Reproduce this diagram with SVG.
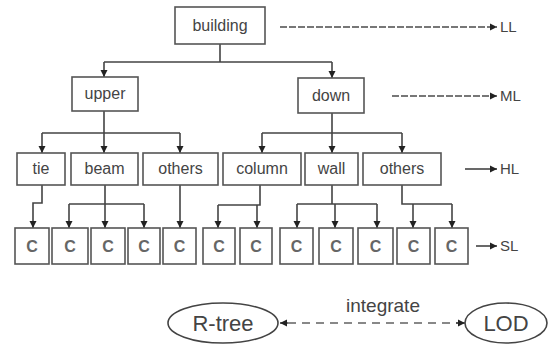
<svg xmlns="http://www.w3.org/2000/svg" width="550" height="345" viewBox="0 0 550 345">
<defs>
<marker id="ah" markerUnits="userSpaceOnUse" markerWidth="8" markerHeight="8" refX="7" refY="4" orient="auto">
<path d="M0,0.5 L7,4 L0,7.5 Z" fill="#222"/>
</marker>
<style>
.box{fill:#fff;stroke:#555;stroke-width:1.6}
.t{font-family:"Liberation Sans",Arial,sans-serif;font-size:16px;fill:#444;text-anchor:middle}
.c{font-family:"Liberation Sans",Arial,sans-serif;font-size:16px;font-weight:bold;fill:#666;text-anchor:middle}
.lab{font-family:"Liberation Sans",Arial,sans-serif;font-size:15px;fill:#444}
.ln{fill:none;stroke:#444;stroke-width:1.6}
.ar{fill:none;stroke:#444;stroke-width:1.6;marker-end:url(#ah)}
.dl{fill:none;stroke:#777;stroke-width:2;stroke-dasharray:7 2;marker-end:url(#ah)}
.db{fill:none;stroke:#888;stroke-width:2;stroke-dasharray:8 6}
.el{fill:#fff;stroke:#444;stroke-width:1.6}
.big{font-family:"Liberation Sans",Arial,sans-serif;font-size:22px;fill:#444;text-anchor:middle}
</style>
</defs>

<g id="connectors">
<path class="ln" d="M220 44 V62 M104 62 H332"/>
<path class="ar" d="M104 62 V77"/>
<path class="ar" d="M332 62 V78"/>
<path class="ln" d="M104 111 V133 M42 133 H180"/>
<path class="ar" d="M42 133 V153"/>
<path class="ar" d="M104 133 V153"/>
<path class="ar" d="M180 133 V153"/>
<path class="ln" d="M332 113 V133 M262 133 H402"/>
<path class="ar" d="M262 133 V153"/>
<path class="ar" d="M332 133 V153"/>
<path class="ar" d="M402 133 V153"/>
<path class="ar" d="M42 185 V203 H33 V228"/>
<path class="ln" d="M105 185 V204 M69 204 H144"/>
<path class="ar" d="M69 204 V228"/>
<path class="ar" d="M105 204 V228"/>
<path class="ar" d="M144 204 V228"/>
<path class="ar" d="M180 185 V228"/>
<path class="ln" d="M260 185 V205 H218"/>
<path class="ar" d="M218 205 V228"/>
<path class="ar" d="M257 205 V228"/>
<path class="ln" d="M332 185 V204 M297 204 H377"/>
<path class="ar" d="M297 204 V228"/>
<path class="ar" d="M335 204 V228"/>
<path class="ar" d="M377 204 V228"/>
<path class="ln" d="M402 185 V204 H452"/>
<path class="ar" d="M413 204 V228"/>
<path class="ar" d="M452 204 V228"/>
<path class="dl" d="M280 27 H497"/>
<path class="dl" d="M392 96 H497"/>
<path class="ar" d="M465 169 H497"/>
<path class="ar" d="M476 246 H497"/>
<path class="db" d="M288 323 H458"/>
<path class="ar" d="M288 323 H280"/>
<path class="ar" d="M456 323 H465"/>
</g>

<g id="building"><rect class="box" x="175" y="7" width="90" height="37"/><text class="t" x="220" y="31">building</text></g>
<g id="upper"><rect class="box" x="72" y="77" width="66" height="34"/><text class="t" x="105" y="99">upper</text></g>
<g id="down"><rect class="box" x="298" y="78" width="66" height="35"/><text class="t" x="331" y="101">down</text></g>

<g id="tie"><rect class="box" x="17" y="153" width="48" height="32"/><text class="t" x="41" y="174">tie</text></g>
<g id="beam"><rect class="box" x="71" y="153" width="67" height="32"/><text class="t" x="104.5" y="174">beam</text></g>
<g id="others1"><rect class="box" x="143" y="153" width="75" height="32"/><text class="t" x="180.5" y="174">others</text></g>
<g id="column"><rect class="box" x="223" y="153" width="78" height="32"/><text class="t" x="262" y="174">column</text></g>
<g id="wall"><rect class="box" x="305" y="153" width="53" height="32"/><text class="t" x="331.5" y="174">wall</text></g>
<g id="others2"><rect class="box" x="363" y="153" width="78" height="32"/><text class="t" x="402" y="174">others</text></g>

<g id="c1"><rect class="box" x="15" y="228" width="34" height="36"/><text class="c" x="32" y="252">C</text></g>
<g id="c2"><rect class="box" x="52" y="228" width="36" height="36"/><text class="c" x="70" y="252">C</text></g>
<g id="c3"><rect class="box" x="91" y="228" width="34" height="36"/><text class="c" x="108" y="252">C</text></g>
<g id="c4"><rect class="box" x="128" y="228" width="32" height="36"/><text class="c" x="144" y="252">C</text></g>
<g id="c5"><rect class="box" x="163" y="228" width="33" height="36"/><text class="c" x="179.5" y="252">C</text></g>
<g id="c6"><rect class="box" x="203" y="228" width="32" height="36"/><text class="c" x="219" y="252">C</text></g>
<g id="c7"><rect class="box" x="240" y="228" width="32" height="36"/><text class="c" x="256" y="252">C</text></g>
<g id="c8"><rect class="box" x="280" y="228" width="33" height="36"/><text class="c" x="296.5" y="252">C</text></g>
<g id="c9"><rect class="box" x="319" y="228" width="34" height="36"/><text class="c" x="336" y="252">C</text></g>
<g id="c10"><rect class="box" x="358" y="228" width="35" height="36"/><text class="c" x="375.5" y="252">C</text></g>
<g id="c11"><rect class="box" x="397" y="228" width="33" height="36"/><text class="c" x="413.5" y="252">C</text></g>
<g id="c12"><rect class="box" x="435" y="228" width="33" height="36"/><text class="c" x="451.5" y="252">C</text></g>

<g id="labels">
<text class="lab" x="500" y="32">LL</text>
<text class="lab" x="500" y="101">ML</text>
<text class="lab" x="500" y="174">HL</text>
<text class="lab" x="500" y="251">SL</text>
</g>

<g id="rtree"><ellipse class="el" cx="223" cy="323" rx="55" ry="20"/><text class="big" x="223" y="331">R-tree</text></g>
<g id="lod"><ellipse class="el" cx="506" cy="323" rx="41" ry="20"/><text class="big" x="506" y="331">LOD</text></g>
<text class="t" x="383" y="312" style="font-size:19px">integrate</text>
</svg>
